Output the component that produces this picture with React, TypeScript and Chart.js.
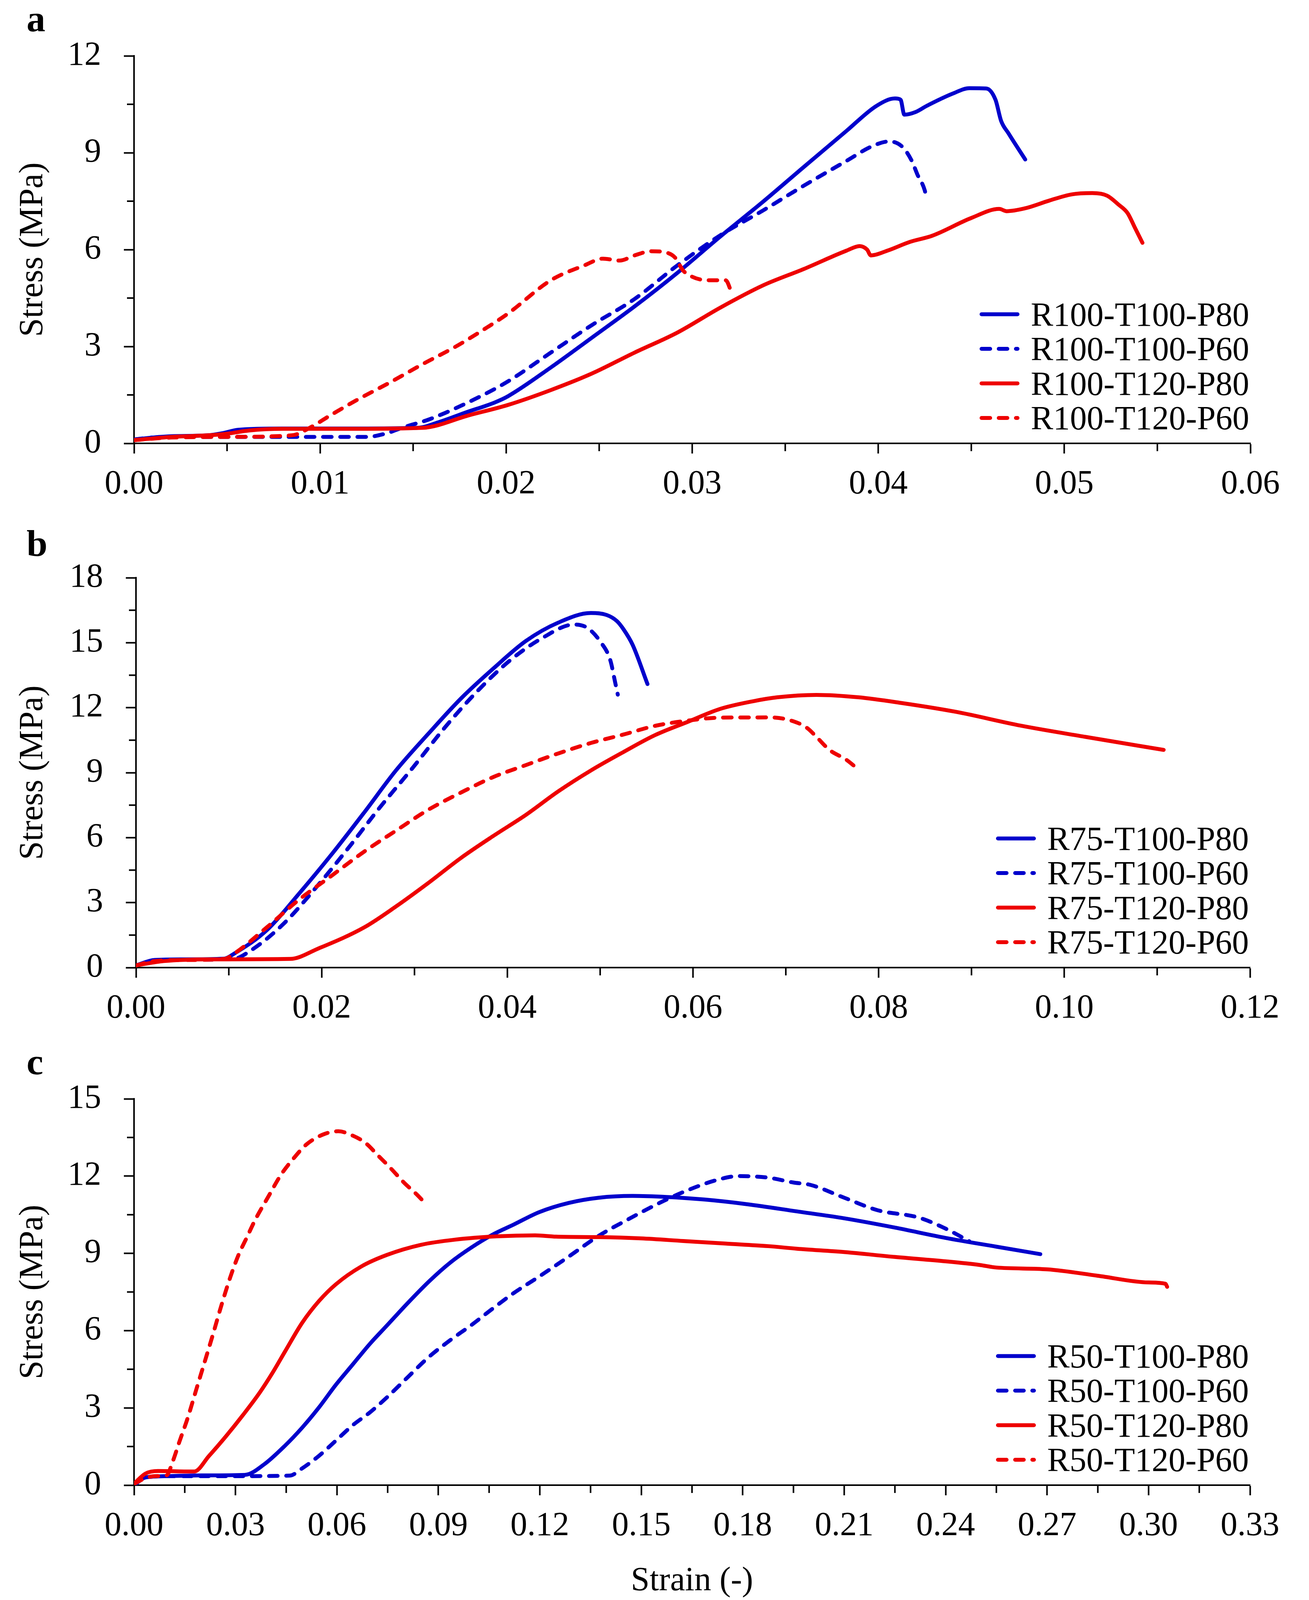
import React, { useEffect, useRef } from 'react';
import { Chart, registerables } from 'chart.js';

Chart.register(...registerables);

const FONT = '"Liberation Serif", "Times New Roman", serif';
const BLUE = '#0000CC';
const RED = '#EE0000';
const DASH = [22, 22];

// ---------- Panel a ----------
const A_LABELS = ['R100-T100-P80', 'R100-T100-P60', 'R100-T120-P80', 'R100-T120-P60'];
const A_T100_P80_X = [0, 0.001, 0.002, 0.004, 0.0048, 0.0056, 0.008, 0.012, 0.0152, 0.0165, 0.0178, 0.0194, 0.0201, 0.0224, 0.0246, 0.0269, 0.0292, 0.0315, 0.0338, 0.036, 0.0383, 0.0399, 0.0409, 0.0412, 0.0414, 0.042, 0.0426, 0.044, 0.0449, 0.0458, 0.0463, 0.0466, 0.047, 0.0479];
const A_T100_P80_Y = [0.12, 0.18, 0.22, 0.25, 0.32, 0.42, 0.46, 0.46, 0.48, 0.68, 0.95, 1.27, 1.46, 2.35, 3.27, 4.24, 5.28, 6.4, 7.48, 8.56, 9.68, 10.45, 10.68, 10.64, 10.18, 10.26, 10.45, 10.83, 11.0, 10.99, 10.64, 9.99, 9.6, 8.79];
const A_T100_P60_X = [0, 0.001, 0.003, 0.006, 0.009, 0.0125, 0.0135, 0.0145, 0.0159, 0.0187, 0.0201, 0.0224, 0.0246, 0.0269, 0.0292, 0.0315, 0.0338, 0.036, 0.0383, 0.0397, 0.0406, 0.0413, 0.0418, 0.0421, 0.0425, 0.0426];
const A_T100_P60_Y = [0.12, 0.18, 0.2, 0.2, 0.2, 0.2, 0.3, 0.5, 0.75, 1.48, 1.92, 2.81, 3.66, 4.47, 5.51, 6.44, 7.21, 7.98, 8.75, 9.21, 9.35, 9.18, 8.75, 8.33, 7.83, 7.56];
const A_T120_P80_X = [0, 0.002, 0.004, 0.005, 0.0062, 0.008, 0.012, 0.0155, 0.018, 0.0201, 0.0224, 0.0246, 0.0269, 0.0292, 0.0315, 0.0338, 0.036, 0.0383, 0.039, 0.0394, 0.0396, 0.0405, 0.0417, 0.0429, 0.045, 0.0465, 0.0469, 0.0479, 0.0492, 0.0504, 0.0515, 0.0523, 0.0529, 0.0534, 0.0538, 0.0542];
const A_T120_P80_Y = [0.1, 0.2, 0.25, 0.3, 0.4, 0.45, 0.45, 0.48, 0.87, 1.19, 1.65, 2.16, 2.81, 3.43, 4.2, 4.89, 5.4, 5.97, 6.11, 6.0, 5.82, 5.97, 6.24, 6.43, 6.98, 7.26, 7.19, 7.28, 7.52, 7.71, 7.75, 7.67, 7.4, 7.13, 6.67, 6.21];
const A_T120_P60_X = [0, 0.002, 0.005, 0.0085, 0.0095, 0.0105, 0.012, 0.0138, 0.0155, 0.0173, 0.019, 0.0201, 0.0224, 0.0242, 0.0252, 0.0261, 0.0269, 0.0278, 0.0286, 0.0291, 0.0295, 0.03, 0.0308, 0.0318, 0.0321];
const A_T120_P60_Y = [0.1, 0.18, 0.2, 0.25, 0.5, 0.85, 1.35, 1.9, 2.45, 3.0, 3.6, 4.02, 5.05, 5.51, 5.72, 5.66, 5.82, 5.95, 5.91, 5.74, 5.36, 5.16, 5.05, 5.05, 4.7];

// ---------- Panel b ----------
const B_LABELS = ['R75-T100-P80', 'R75-T100-P60', 'R75-T120-P80', 'R75-T120-P60'];
const B_T100_P80_X = [0, 0.002, 0.005, 0.0095, 0.0106, 0.0141, 0.0176, 0.0211, 0.0246, 0.028, 0.0315, 0.035, 0.0385, 0.042, 0.0455, 0.049, 0.0507, 0.0518, 0.0525, 0.0535, 0.0551];
const B_T100_P80_Y = [0.1, 0.35, 0.38, 0.41, 0.65, 1.73, 3.43, 5.24, 7.17, 9.1, 10.8, 12.42, 13.81, 15.08, 15.93, 16.37, 16.28, 16.0, 15.63, 14.9, 13.09];
const B_T100_P60_X = [0, 0.002, 0.005, 0.0105, 0.0123, 0.0158, 0.0197, 0.0228, 0.0263, 0.0298, 0.0333, 0.0367, 0.0402, 0.0437, 0.0472, 0.0486, 0.05, 0.0511, 0.0516, 0.0519];
const B_T100_P60_Y = [0.1, 0.33, 0.36, 0.4, 0.77, 1.98, 3.85, 5.48, 7.41, 9.22, 11.1, 12.73, 14.15, 15.2, 15.84, 15.69, 15.06, 14.18, 13.2, 12.6];
const B_T120_P80_X = [0, 0.003, 0.008, 0.0166, 0.0197, 0.0246, 0.028, 0.0315, 0.035, 0.0385, 0.042, 0.0455, 0.049, 0.0525, 0.0559, 0.0594, 0.0629, 0.0665, 0.0691, 0.0733, 0.0778, 0.0824, 0.0883, 0.0953, 0.1023, 0.1107];
const B_T120_P80_Y = [0.1, 0.3, 0.38, 0.4, 0.89, 1.86, 2.82, 3.91, 5.06, 6.08, 7.05, 8.14, 9.1, 9.95, 10.73, 11.34, 11.94, 12.3, 12.48, 12.59, 12.48, 12.22, 11.81, 11.17, 10.65, 10.05];
const B_T120_P60_X = [0, 0.002, 0.005, 0.0095, 0.0106, 0.0141, 0.0176, 0.0211, 0.0246, 0.028, 0.0315, 0.035, 0.0385, 0.042, 0.0455, 0.049, 0.0525, 0.0559, 0.0594, 0.0629, 0.0684, 0.0709, 0.0723, 0.0733, 0.0747, 0.0765, 0.0777];
const B_T120_P60_Y = [0.1, 0.3, 0.35, 0.4, 0.65, 1.86, 3.15, 4.25, 5.36, 6.32, 7.29, 8.08, 8.8, 9.35, 9.89, 10.37, 10.76, 11.16, 11.4, 11.54, 11.55, 11.36, 11.06, 10.65, 10.05, 9.6, 9.19];

// ---------- Panel c ----------
const C_LABELS = ['R50-T100-P80', 'R50-T100-P60', 'R50-T120-P80', 'R50-T120-P60'];
const C_T100_P80_X = [0, 0.0034, 0.01, 0.02, 0.0328, 0.0384, 0.0447, 0.0497, 0.0547, 0.0597, 0.0647, 0.0697, 0.0748, 0.081, 0.0873, 0.0935, 0.0998, 0.1061, 0.1123, 0.1198, 0.1286, 0.1374, 0.1474, 0.1574, 0.1687, 0.1812, 0.196, 0.21, 0.225, 0.24, 0.255, 0.268];
const C_T100_P80_Y = [0.0, 0.3, 0.35, 0.38, 0.4, 0.8, 1.54, 2.23, 3.02, 3.9, 4.69, 5.48, 6.2, 7.08, 7.92, 8.64, 9.23, 9.73, 10.12, 10.6, 10.96, 11.16, 11.23, 11.19, 11.09, 10.91, 10.63, 10.36, 10.0, 9.6, 9.26, 8.97];
const C_T100_P60_X = [0, 0.0034, 0.01, 0.03, 0.046, 0.0497, 0.0547, 0.0597, 0.0647, 0.0697, 0.0748, 0.081, 0.0873, 0.0935, 0.0998, 0.1061, 0.1123, 0.1198, 0.1286, 0.1374, 0.1461, 0.1562, 0.1637, 0.1724, 0.1787, 0.1875, 0.195, 0.2, 0.21, 0.22, 0.232, 0.24, 0.247];
const C_T100_P60_Y = [0.0, 0.3, 0.35, 0.35, 0.37, 0.65, 1.14, 1.73, 2.33, 2.82, 3.41, 4.2, 4.99, 5.63, 6.22, 6.86, 7.46, 8.1, 8.88, 9.68, 10.32, 11.01, 11.45, 11.85, 12.0, 11.94, 11.75, 11.66, 11.16, 10.67, 10.39, 9.96, 9.47];
const C_T120_P80_X = [0, 0.0034, 0.0071, 0.0178, 0.0222, 0.0272, 0.0322, 0.0372, 0.0409, 0.0447, 0.0497, 0.0547, 0.0597, 0.0672, 0.0748, 0.0848, 0.0948, 0.1073, 0.1186, 0.1248, 0.1374, 0.1499, 0.1624, 0.1749, 0.1875, 0.196, 0.21, 0.225, 0.24, 0.25, 0.255, 0.27, 0.285, 0.3, 0.305, 0.3055];
const C_T120_P80_Y = [0.06, 0.45, 0.55, 0.53, 1.14, 1.9, 2.72, 3.6, 4.35, 5.2, 6.3, 7.15, 7.8, 8.49, 8.94, 9.33, 9.53, 9.66, 9.7, 9.65, 9.63, 9.58, 9.48, 9.38, 9.28, 9.18, 9.05, 8.86, 8.69, 8.55, 8.45, 8.38, 8.13, 7.87, 7.82, 7.7];
const C_T120_P60_X = [0, 0.003, 0.006, 0.0096, 0.0115, 0.0134, 0.0159, 0.0184, 0.0209, 0.0234, 0.0259, 0.0284, 0.0309, 0.0334, 0.0359, 0.0397, 0.0434, 0.0472, 0.051, 0.056, 0.0604, 0.0647, 0.0685, 0.0723, 0.076, 0.0798, 0.0835, 0.086];
const C_T120_P60_Y = [0.05, 0.25, 0.35, 0.38, 0.94, 1.68, 2.62, 3.71, 4.79, 5.88, 7.01, 8.05, 8.94, 9.63, 10.32, 11.2, 12.04, 12.69, 13.23, 13.62, 13.74, 13.57, 13.28, 12.78, 12.29, 11.75, 11.3, 10.96];

// axis settings
const A_X_MAX = 0.06, A_X_STEP = 0.01, A_Y_MAX = 12, A_Y_STEP = 3;
const B_X_MAX = 0.12, B_X_STEP = 0.02, B_Y_MAX = 18, B_Y_STEP = 3;
const C_X_MAX = 0.33, C_X_STEP = 0.03, C_Y_MAX = 15, C_Y_STEP = 3;

const SERIES_STYLE = [
  { color: BLUE, dashed: false },
  { color: BLUE, dashed: true },
  { color: RED, dashed: false },
  { color: RED, dashed: true },
];

type PanelDef = {
  letter: string;
  top: number;
  height: number;
  areaTop: number;
  areaBottom: number;
  areaLeft: number;
  areaRight: number;
  letterY: number;
  xMax: number;
  xStep: number;
  yMax: number;
  yStep: number;
  xTitle: string | null;
  labels: string[];
  xs: number[][];
  ys: number[][];
};

const PANELS: PanelDef[] = [
  {
    letter: 'a', top: 0, height: 1330, areaTop: 143, areaBottom: 1135, areaLeft: 343, areaRight: 3200, letterY: 80,
    xMax: A_X_MAX, xStep: A_X_STEP, yMax: A_Y_MAX, yStep: A_Y_STEP, xTitle: null, labels: A_LABELS,
    xs: [A_T100_P80_X, A_T100_P60_X, A_T120_P80_X, A_T120_P60_X],
    ys: [A_T100_P80_Y, A_T100_P60_Y, A_T120_P80_Y, A_T120_P60_Y],
  },
  {
    letter: 'b', top: 1330, height: 1350, areaTop: 149, areaBottom: 1147, areaLeft: 348, areaRight: 3199, letterY: 93,
    xMax: B_X_MAX, xStep: B_X_STEP, yMax: B_Y_MAX, yStep: B_Y_STEP, xTitle: null, labels: B_LABELS,
    xs: [B_T100_P80_X, B_T100_P60_X, B_T120_P80_X, B_T120_P60_X],
    ys: [B_T100_P80_Y, B_T100_P60_Y, B_T120_P80_Y, B_T120_P60_Y],
  },
  {
    letter: 'c', top: 2680, height: 1459, areaTop: 133, areaBottom: 1122, areaLeft: 343, areaRight: 3199, letterY: 70,
    xMax: C_X_MAX, xStep: C_X_STEP, yMax: C_Y_MAX, yStep: C_Y_STEP, xTitle: 'Strain (-)', labels: C_LABELS,
    xs: [C_T100_P80_X, C_T100_P60_X, C_T120_P80_X, C_T120_P60_X],
    ys: [C_T100_P80_Y, C_T100_P60_Y, C_T120_P80_Y, C_T120_P60_Y],
  },
];

const decoPlugin = {
  id: 'deco',
  afterDraw(chart: any, _args: any, opts: any) {
    const { ctx, chartArea, scales } = chart;
    const xs = scales.x;
    const ys = scales.y;
    ctx.save();
    // minor ticks
    ctx.strokeStyle = '#000';
    ctx.lineWidth = 4;
    ctx.lineCap = 'butt';
    ctx.setLineDash([]);
    const nx = Math.round(opts.xMax / opts.xStep);
    for (let k = 0; k < nx; k++) {
      const px = xs.getPixelForValue((k + 0.5) * opts.xStep);
      ctx.beginPath();
      ctx.moveTo(px, chartArea.bottom);
      ctx.lineTo(px, chartArea.bottom + 20);
      ctx.stroke();
    }
    const ny = Math.round(opts.yMax / opts.yStep);
    for (let k = 0; k < ny; k++) {
      const py = ys.getPixelForValue((k + 0.5) * opts.yStep);
      ctx.beginPath();
      ctx.moveTo(chartArea.left, py);
      ctx.lineTo(chartArea.left - 18, py);
      ctx.stroke();
    }
    // legend
    const dsets = chart.data.datasets;
    ctx.font = `86px ${FONT}`;
    let maxW = 0;
    dsets.forEach((d: any) => { maxW = Math.max(maxW, ctx.measureText(d.label).width); });
    const right = chartArea.right - 3;
    const textX = right - maxW;
    const x2 = textX - 29;
    const x1 = x2 - 102;
    dsets.forEach((d: any, i: number) => {
      const cy = chartArea.bottom - 65 - (dsets.length - 1 - i) * 88.5;
      ctx.strokeStyle = d.borderColor;
      ctx.lineWidth = 10;
      ctx.lineCap = 'round';
      ctx.setLineDash(d.borderDash || []);
      ctx.beginPath();
      ctx.moveTo(x1 + 5, cy);
      ctx.lineTo(x2 - 5, cy);
      ctx.stroke();
      ctx.setLineDash([]);
      ctx.fillStyle = '#000';
      ctx.textAlign = 'left';
      ctx.textBaseline = 'alphabetic';
      ctx.fillText(d.label, textX, cy + 29);
    });
    // panel letter
    ctx.font = `bold 96px ${FONT}`;
    ctx.fillStyle = '#000';
    ctx.textAlign = 'left';
    ctx.textBaseline = 'alphabetic';
    ctx.fillText(opts.letter, 68, opts.letterY);
    ctx.restore();
  },
};

function Panel({ p }: { p: PanelDef }) {
  const ref = useRef<HTMLCanvasElement | null>(null);
  useEffect(() => {
    if (!ref.current) return;
    const datasets = p.labels.map((label, i) => ({
      label,
      data: p.xs[i].map((x, j) => ({ x, y: p.ys[i][j] })),
      borderColor: SERIES_STYLE[i].color,
      backgroundColor: SERIES_STYLE[i].color,
      borderDash: SERIES_STYLE[i].dashed ? DASH : [],
      borderCapStyle: 'round',
      borderJoinStyle: 'round',
      borderWidth: 10,
      pointRadius: 0,
      fill: false,
      cubicInterpolationMode: 'monotone',
      order: 3 - i,
    }));
    const tickFont = { family: FONT, size: 86 };
    const chart = new Chart(ref.current, {
      type: 'line',
      data: { datasets } as any,
      options: {
        animation: false,
        responsive: false,
        devicePixelRatio: 1,
        layout: { padding: { top: p.areaTop, right: 3350 - p.areaRight, left: 0, bottom: 0 } },
        plugins: {
          legend: { display: false },
          tooltip: { enabled: false },
          deco: { letter: p.letter, letterY: p.letterY, xMax: p.xMax, xStep: p.xStep, yMax: p.yMax, yStep: p.yStep },
        } as any,
        scales: {
          x: {
            type: 'linear',
            min: 0,
            max: p.xMax,
            ticks: {
              stepSize: p.xStep,
              autoSkip: false,
              maxRotation: 0,
              minRotation: 0,
              padding: 28,
              color: '#000',
              font: tickFont,
              callback: (v: any) => Number(v).toFixed(2),
            },
            grid: { drawOnChartArea: false, drawTicks: true, tickLength: 26, tickWidth: 4, tickColor: '#000' },
            border: { display: true, color: '#000', width: 4 },
            title: {
              display: !!p.xTitle,
              text: p.xTitle || '',
              color: '#000',
              font: { family: FONT, size: 86, lineHeight: 1.2 },
              padding: { top: 0, bottom: 39 },
            },
            afterFit: (s: any) => { s.height = p.height - p.areaBottom; },
          },
          y: {
            type: 'linear',
            min: 0,
            max: p.yMax,
            ticks: {
              stepSize: p.yStep,
              padding: 58,
              color: '#000',
              font: tickFont,
              callback: (v: any) => String(Math.round(Number(v))),
            },
            grid: { drawOnChartArea: false, drawTicks: true, tickLength: 26, tickWidth: 4, tickColor: '#000' },
            border: { display: true, color: '#000', width: 4 },
            title: {
              display: true,
              text: 'Stress (MPa)',
              color: '#000',
              font: { family: FONT, size: 86, lineHeight: 1.2 },
              padding: { top: 34, bottom: 0 },
            },
            afterFit: (s: any) => { s.width = p.areaLeft; },
          },
        },
      } as any,
      plugins: [decoPlugin],
    });
    return () => chart.destroy();
  }, [p]);
  return (
    <canvas
      ref={ref}
      width={3350}
      height={p.height}
      style={{ position: 'absolute', left: 0, top: p.top, width: 3350, height: p.height }}
    />
  );
}

export default function App() {
  return (
    <div style={{ position: 'absolute', left: 0, top: 0, width: 3350, height: 4139, background: '#fff', overflow: 'hidden' }}>
      {PANELS.map((p) => (
        <Panel key={p.letter} p={p} />
      ))}
    </div>
  );
}
